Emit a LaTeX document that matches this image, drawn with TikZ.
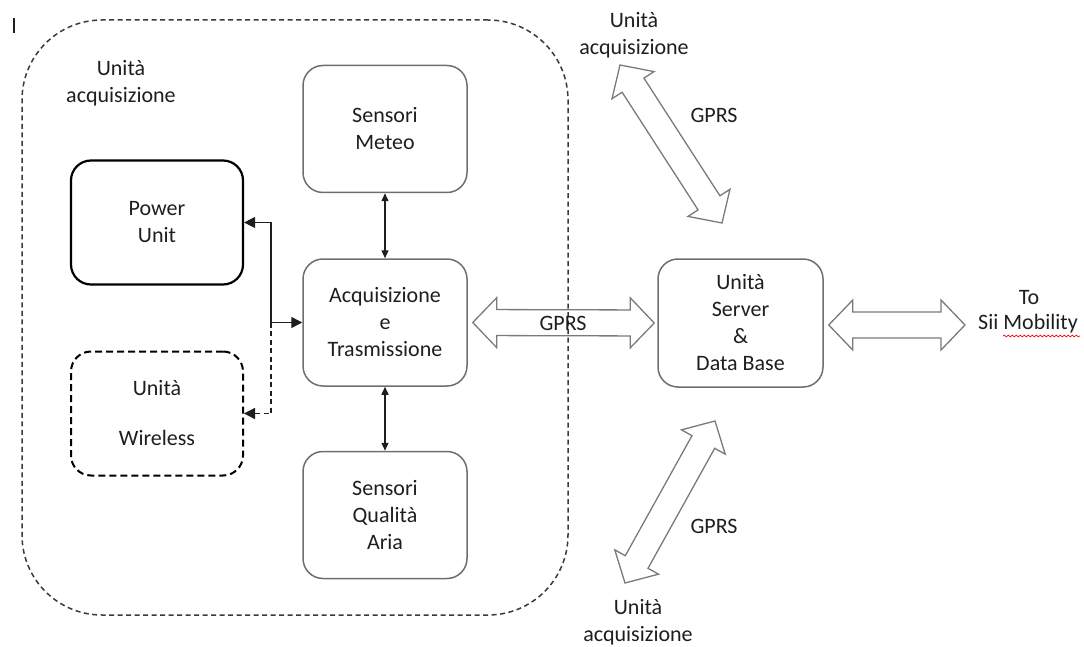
\documentclass[tikz,border=0pt]{standalone}
\usepackage{fontspec}
\setmainfont{Carlito}
\usetikzlibrary{arrows.meta,calc,decorations.pathmorphing}

\definecolor{ink}{HTML}{1E1E1E}
\definecolor{boxgray}{HTML}{6E6E6E}
\definecolor{framegray}{HTML}{3A3A3A}
\definecolor{arrowgray}{HTML}{7A7A7A}

\newcommand\diagfont{\fontsize{22}{27}\selectfont}

% hollow two-headed block arrow between two named points
\newcommand\blockarrow[2]{%
  \draw[barrow] (#1)
    -- ($(#1)!24pt!(#2)!25pt!90:(#2)$)
    -- ($(#1)!24pt!(#2)!13pt!90:(#2)$)
    -- ($(#2)!24pt!(#1)!13pt!-90:(#1)$)
    -- ($(#2)!24pt!(#1)!25pt!-90:(#1)$)
    -- (#2)
    -- ($(#2)!24pt!(#1)!25pt!90:(#1)$)
    -- ($(#2)!24pt!(#1)!13pt!90:(#1)$)
    -- ($(#1)!24pt!(#2)!13pt!-90:(#2)$)
    -- ($(#1)!24pt!(#2)!25pt!-90:(#2)$)
    -- cycle;}

\begin{document}
\begin{tikzpicture}[x=1pt,y=-1pt,
  txt/.style={font=\diagfont, text=ink, align=center, inner sep=0pt},
  box/.style={txt, draw=boxgray, line width=1.5pt, rounded corners=20pt,
    minimum width=164pt, minimum height=127pt},
  sidebox/.style={txt, draw=black, line width=2.2pt, rounded corners=20pt,
    minimum width=172pt, minimum height=124pt},
  unitframe/.style={draw=framegray, line width=1.5pt, rounded corners=80pt,
    dash pattern=on 5pt off 3.5pt, minimum width=546pt, minimum height=595pt, inner sep=0pt},
  link/.style={draw=ink, line width=1.4pt},
  vlink/.style={link, {Triangle[length=8pt,width=7pt]}-{Triangle[length=8pt,width=7pt]}},
  hlink/.style={link, -{Triangle[length=11pt,width=11pt]}},
  barrow/.style={draw=arrowgray, line width=1.3pt, line join=miter},
]
\useasboundingbox (0,0) rectangle (1084,647);

% text cursor mark in the corner
\draw[ink, line width=1.6pt] (14,18) -- (14,33);

% acquisition unit frame
\node[unitframe] (unit) at (295,317.5) {};
\node[txt] (lblA) at (121,83) {Unità\\acquisizione};

% blocks
\node[box] (met) at (385,129) {Sensori\\Meteo};
\node[box] (acq) at (385,322.5) {Acquisizione\\e\\Trasmissione};
\node[box] (qual) at (385,515) {Sensori\\Qualità\\Aria};
\node[sidebox] (pwr) at (157,222.5) {Power\\Unit};
\node[sidebox, line width=2pt, dash pattern=on 7pt off 4pt] (wls) at (157,413.5) {Unità\\[23pt]Wireless};
\node[box, minimum width=165pt, minimum height=128pt] (srv) at (740.5,323) {Unità\\Server\\\&\\Data Base};

% sensor links
\draw[vlink] (met.south) -- (acq.north);
\draw[vlink] (qual.north) -- (acq.south);

% power and wireless links
\coordinate (jn) at (271,0 |- acq.west);
\draw[hlink] (jn) -- (acq.west);
\draw[hlink] (jn) |- (pwr.east);
\draw[hlink, dash pattern=on 5pt off 3.5pt] (jn) |- (wls.east);

% outer labels
\node[txt] (lblT) at (634,35) {Unità\\acquisizione};
\node[txt] (lblB) at (638,622) {Unità\\acquisizione};
\node[txt] (tolbl) at (1029,298) {To};
\node[txt] (sii) at (1028,324) {Sii Mobility};
\draw[red, line width=0.7pt, decorate, decoration={snake, amplitude=0.9pt, segment length=4pt}]
  (1003,336) -- (1080,336);

% GPRS block arrows
\coordinate (m1) at ($(acq.east)+(5,0)$);
\coordinate (m2) at ($(srv.west)+(-3,0)$);
\coordinate (r1) at ($(srv.east)+(5,2)$);
\coordinate (r2) at (965,325);
\coordinate (t1) at (620,65);
\coordinate (t2) at (722,223);
\coordinate (b1) at (715,421);
\coordinate (b2) at (625,583);
\blockarrow{m1}{m2}
\blockarrow{r1}{r2}
\blockarrow{t1}{t2}
\blockarrow{b1}{b2}

\node[txt] (gm) at (563,323) {GPRS};
\node[txt] (gt) at (714,115) {GPRS};
\node[txt] (gb) at (714,526) {GPRS};
\end{tikzpicture}
\end{document}
